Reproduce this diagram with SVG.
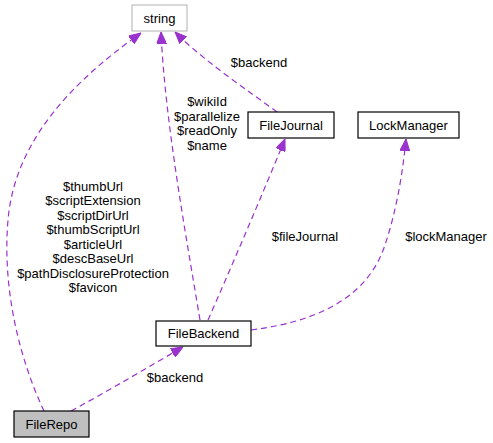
<svg xmlns="http://www.w3.org/2000/svg" width="493" height="443" viewBox="0 0 493 443">
<style>
text{font-family:"Liberation Sans",Arial,sans-serif;font-size:13px;fill:#000;text-anchor:middle}
.node{fill:#fff;stroke:#000;stroke-width:1.2}
.edge{fill:none;stroke:#9a32cd;stroke-width:1.2;stroke-dasharray:6,4}
</style>
<defs>
<marker id="arr" viewBox="0 0 12 10" refX="12" refY="5" markerWidth="12" markerHeight="10" markerUnits="userSpaceOnUse" orient="auto">
<path d="M0,0 L12,5 L0,10 z" fill="#9a32cd" stroke="#9a32cd"/>
</marker>
</defs>
<rect width="493" height="443" fill="#fff"/>
<g id="edges">
<path class="edge" marker-end="url(#arr)" d="M44,411 C20,360 2,290 8,220 C14,150 60,90 141,33"/>
<path class="edge" marker-end="url(#arr)" d="M200,320 C185,230 165,120 161,32"/>
<path class="edge" marker-end="url(#arr)" d="M277,112 C250,92 205,62 175,32"/>
<path class="edge" marker-end="url(#arr)" d="M208,320 C230,270 260,200 285,139"/>
<path class="edge" marker-end="url(#arr)" d="M251,330 C330,320 370,290 385,245 C395,215 402,180 406,139"/>
<path class="edge" marker-end="url(#arr)" d="M71,411 C110,390 150,366 183,347"/>
<text x="93" y="190.5">$thumbUrl</text>
<text x="93" y="205">$scriptExtension</text>
<text x="93" y="219.5">$scriptDirUrl</text>
<text x="93" y="234">$thumbScriptUrl</text>
<text x="93" y="248.5">$articleUrl</text>
<text x="93" y="263">$descBaseUrl</text>
<text x="93" y="277.5">$pathDisclosureProtection</text>
<text x="93" y="292">$favicon</text>
<text x="207" y="106">$wikiId</text>
<text x="207" y="120.5">$parallelize</text>
<text x="207" y="135">$readOnly</text>
<text x="207" y="149.5">$name</text>
<text x="259" y="67">$backend</text>
<text x="305" y="241">$fileJournal</text>
<text x="446" y="241">$lockManager</text>
<text x="175" y="382">$backend</text>
</g>
<g id="string"><rect x="132" y="5" width="55" height="26" fill="#fff" stroke="#bfbfbf" stroke-width="1.2"/><text x="159.5" y="22.5">string</text></g>
<g id="FileJournal"><rect class="node" x="248" y="112" width="86" height="26"/><text x="291" y="129.5">FileJournal</text></g>
<g id="LockManager"><rect class="node" x="358" y="112" width="101" height="26"/><text x="408.5" y="129.5">LockManager</text></g>
<g id="FileBackend"><rect class="node" x="156" y="321" width="95" height="25"/><text x="203.5" y="338">FileBackend</text></g>
<g id="FileRepo"><rect x="14" y="411" width="75" height="26" fill="#bfbfbf" stroke="#000" stroke-width="1.2"/><text x="51.5" y="428.5">FileRepo</text></g>
</svg>
